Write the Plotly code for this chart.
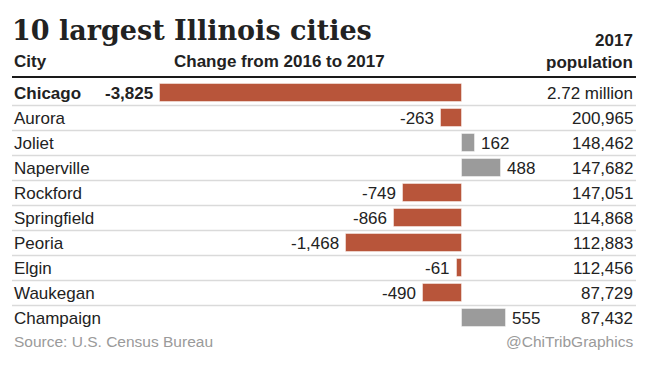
import plotly.graph_objects as go

# ---- data ----
cities = ["Chicago", "Aurora", "Joliet", "Naperville", "Rockford",
          "Springfield", "Peoria", "Elgin", "Waukegan", "Champaign"]
change = [-3825, -263, 162, 488, -749, -866, -1468, -61, -490, 555]
population_labels = ["2.72 million", "200,965", "148,462", "147,682", "147,051",
                     "114,868", "112,883", "112,456", "87,729", "87,432"]

title_text = "10 largest Illinois cities"
col_city = "City"
col_change = "Change from 2016 to 2017"
col_pop = "2017<br>population"
source_text = "Source: U.S. Census Bureau"
credit_text = "@ChiTribGraphics"

# ---- style ----
W, H = 650, 366
NEG = "#B8553A"
POS = "#9B9B9B"
TXT = "#222222"
SANS = "Liberation Sans, Arial, sans-serif"
SERIF = "DejaVu Serif, Georgia, serif"

def py(p):  # pixel y -> paper y
    return 1 - p / H

def px(p):  # pixel x -> paper x
    return p / W

idx = list(range(len(cities)))
colors = [NEG if v < 0 else POS for v in change]

fig = go.Figure()
fig.add_trace(go.Bar(
    x=change, y=idx, orientation="h", width=0.72,
    marker=dict(color=colors, line=dict(color="rgba(255,255,255,0.45)", width=1)),
    hoverinfo="skip", showlegend=False,
))

ann = []
for i, (c, v, p) in enumerate(zip(cities, change, population_labels)):
    bold = (i == 0)
    ann.append(dict(x=px(12), xref="paper", y=i, yref="y", xanchor="left", yanchor="middle",
                    text=f"<b>{c}</b>" if bold else c, showarrow=False,
                    font=dict(family=SANS, size=17, color=TXT)))
    ann.append(dict(x=px(635), xref="paper", y=i, yref="y", xanchor="right", yanchor="middle",
                    text=p, showarrow=False, font=dict(family=SANS, size=17, color=TXT)))
    lab = f"{v:,}"
    if bold:
        lab = f"<b>{lab}</b>"
    ann.append(dict(x=v, xref="x", y=i, yref="y",
                    xanchor="right" if v < 0 else "left", yanchor="middle",
                    xshift=-5 if v < 0 else 4, text=lab, showarrow=False,
                    font=dict(family=SANS, size=17, color=TXT)))

ann += [
    dict(x=px(10), xref="paper", y=py(31), yref="paper", xanchor="left", yanchor="middle",
         text=f"<b>{title_text}</b>", showarrow=False,
         font=dict(family=SERIF, size=27, color=TXT)),
    dict(x=px(12), xref="paper", y=py(62), yref="paper", xanchor="left", yanchor="middle",
         text=f"<b>{col_city}</b>", showarrow=False, font=dict(family=SANS, size=17, color=TXT)),
    dict(x=px(172), xref="paper", y=py(62), yref="paper", xanchor="left", yanchor="middle",
         text=f"<b>{col_change}</b>", showarrow=False, font=dict(family=SANS, size=17, color=TXT)),
    dict(x=px(635), xref="paper", y=py(52), yref="paper", xanchor="right", yanchor="middle",
         text=f"<b>{col_pop}</b>", align="right", showarrow=False,
         font=dict(family=SANS, size=17, color=TXT)),
    dict(x=px(12), xref="paper", y=py(341), yref="paper", xanchor="left", yanchor="middle",
         text=source_text, showarrow=False, font=dict(family=SANS, size=15.5, color="#9A9A9A")),
    dict(x=px(635), xref="paper", y=py(341), yref="paper", xanchor="right", yanchor="middle",
         text=credit_text, showarrow=False, font=dict(family=SANS, size=15.5, color="#9A9A9A")),
]

shapes = [dict(type="line", xref="paper", yref="paper", x0=px(12), x1=px(636),
               y0=py(77), y1=py(77), line=dict(color="#1a1a1a", width=2))]
for i in range(len(cities) - 1):
    shapes.append(dict(type="line", xref="paper", yref="y", x0=px(12), x1=px(636),
                       y0=i + 0.5, y1=i + 0.5, line=dict(color="#DADADA", width=1.5)))

fig.update_layout(
    width=W, height=H, margin=dict(l=0, r=0, t=0, b=0),
    paper_bgcolor="white", plot_bgcolor="white",
    xaxis=dict(range=[-5852, 2381], visible=False, fixedrange=True),
    yaxis=dict(range=[10.92, -3.72], visible=False, fixedrange=True),
    annotations=ann, shapes=shapes, bargap=0,
)
fig.write_html("out.html", config={"displayModeBar": False},
               post_script="document.body.style.margin='0px';document.body.style.overflow='hidden';")
